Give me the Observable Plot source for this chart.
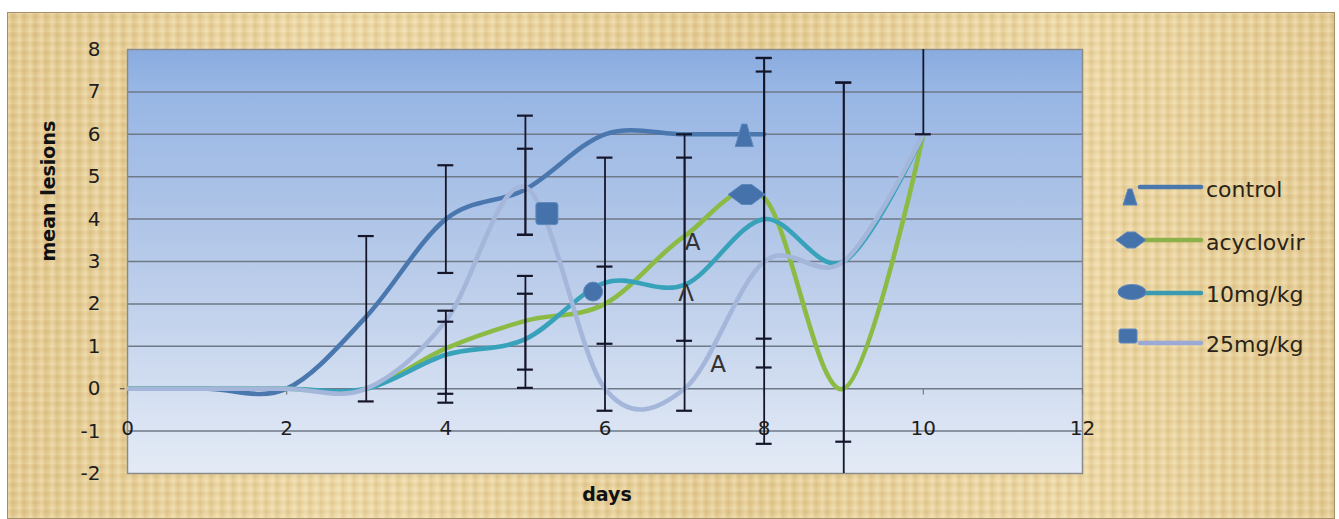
<!DOCTYPE html>
<html>
<head>
<meta charset="utf-8">
<script src="https://cdn.jsdelivr.net/npm/d3@7"></script>
<script src="https://cdn.jsdelivr.net/npm/@observablehq/plot@0.6"></script>
<style>
html,body{margin:0;padding:0;background:#fff;overflow:hidden;}
#wrap{position:relative;width:1339px;height:519px;}
#paper{position:absolute;left:7px;top:12px;width:1328px;height:507px;box-sizing:border-box;border:1px solid #a48e68;
  background-color:#e8d19b;
  background-image:
   repeating-linear-gradient(90deg, rgba(255,250,225,0.28) 0px, rgba(255,250,225,0) 3px, rgba(170,130,60,0.12) 5px, rgba(255,250,225,0) 8px, rgba(255,250,225,0.22) 11px),
   repeating-linear-gradient(0deg, rgba(255,245,210,0.20) 0px, rgba(0,0,0,0) 4px, rgba(160,120,50,0.09) 6px, rgba(0,0,0,0) 9px),
   linear-gradient(90deg, rgba(205,165,95,0.18), rgba(255,240,200,0.22) 25%, rgba(205,165,95,0.12) 55%, rgba(255,240,200,0.2) 80%, rgba(205,165,95,0.15));
}
#chart{position:absolute;left:0;top:0;}
#legend{position:absolute;left:0;top:0;}
</style>
</head>
<body>
<div id="wrap"><div id="paper"></div><div id="chart"></div><svg id="legend" width="1339" height="519"></svg></div>
<script>
// ---- data ----
const days = [0,1,2,3,4,5,6,7,8,9,10];
const seriesNames = ["control","acyclovir","10mg/kg","25mg/kg"];
const control   = [0,0,0,1.7,4,4.7,6,6,6,null,null];
const acyclovir = [0,0,0,0,0.95,1.6,2.0,3.6,4.5,0,6];
const mg10      = [0,0,0,0,0.8,1.17,2.5,2.45,4.0,3.0,6];
const mg25      = [0,0,0,0,1.6,4.75,0,0,3.0,3.0,6];

const xTicks = [0,2,4,6,8,10,12];
const yTicks = [-2,-1,0,1,2,3,4,5,6,7,8];

// error bars (low / high per bar)
const errDay  = [3, 4,4,4, 5,5,5,5, 6,6, 7,7, 8,8,8, 9,9, 10];
const errLow  = [-0.3, 2.73,-0.12,-0.33, 3.63,3.63,0.45,0.02, -0.52,1.06, -0.52,1.13, 1.18,0.5,-1.3, -1.25,-7.22, 6];
const errHigh = [3.6, 5.27,1.84,1.58, 5.66,6.44,2.66,2.24, 5.45,2.88, 5.45,6.0, 7.8,7.48,7.8, 7.22,7.22, 10];

// single markers shown on each series
const markerDay   = [7.75, 7.78, 5.85, 5.27];
const markerValue = [5.97, 4.58, 2.29, 4.13];

// stray text labels
const noteText  = ["A","Λ","A"];
const noteDay   = [7.1, 7.02, 7.42];
const noteValue = [3.44, 2.24, 0.56];

const seriesColors = ["#4a78ae","#8cbb45","#37a2ba","#a4b7da"];
const legendLineColors = ["#4a78ad","#8db04a","#3a9bb0","#9ba9d6"];
const markerFill = "#4572aa";
const markerStroke = "#5c88bd";

// ---- custom symbols ----
const symTriangle = {draw(c, s){ const r=Math.sqrt(s/Math.PI); c.moveTo(-0.25*r,-1.15*r); c.lineTo(0.25*r,-1.15*r); c.lineTo(0.9*r,1.1*r); c.lineTo(-0.9*r,1.1*r); c.closePath(); }};
const symDiamond  = {draw(c, s){ const r=Math.sqrt(s/Math.PI); c.moveTo(-1.85*r,0); c.lineTo(-0.5*r,-r); c.lineTo(0.5*r,-r); c.lineTo(1.85*r,0); c.lineTo(0.5*r,r); c.lineTo(-0.5*r,r); c.closePath(); }};
const symEllipse  = {draw(c, s){ const r=Math.sqrt(s/Math.PI); c.moveTo(r,0); c.arc(0,0,r,0,2*Math.PI); c.closePath(); }};
const symSquare   = {draw(c, s){ const r=Math.sqrt(s/Math.PI); const q=0.25*r; c.moveTo(-r+q,-r); c.lineTo(r-q,-r); c.quadraticCurveTo(r,-r,r,-r+q); c.lineTo(r,r-q); c.quadraticCurveTo(r,r,r-q,r); c.lineTo(-r+q,r); c.quadraticCurveTo(-r,r,-r,r-q); c.lineTo(-r,-r+q); c.quadraticCurveTo(-r,-r,-r+q,-r); c.closePath(); }};
const markerSymbols = [symTriangle, symDiamond, symEllipse, symSquare];
const markerR = [10, 10, 9.5, 11];

// ---- build tables ----
const allVals = [control, acyclovir, mg10, mg25];
const rows = [];
seriesNames.forEach((name,i)=>{ days.forEach((d,j)=>{ const v=allVals[i][j]; if(v!=null) rows.push({series:name, day:d, value:v}); }); });
const errIdx = errDay.map((d,i)=>i);
const caps = [];
errIdx.forEach(i=>{ caps.push({day:errDay[i], v:errLow[i]}); caps.push({day:errDay[i], v:errHigh[i]}); });
const noteIdx = noteText.map((d,i)=>i);

const font = "DejaVu Sans";

const chart = Plot.plot({
  width: 1339, height: 519,
  marginLeft: 127, marginRight: 257, marginTop: 49, marginBottom: 46,
  x: {domain: [0,12], axis: null},
  y: {domain: [-2,8], axis: null},
  color: {domain: seriesNames, range: seriesColors},
  style: {background: "transparent", fontFamily: font, fontSize: "20px", overflow: "visible"},
  marks: [
    Plot.frame({fill: "#b5c8ea"}),
    Plot.ruleY(yTicks.filter(t=>t>-2 && t<8), {y: d=>d, stroke: "#6f7988", strokeWidth: 1.5}),
    Plot.frame({stroke: "#8a8a8a", strokeWidth: 1.5}),
    Plot.ruleX(xTicks, {x: d=>d, y1: 0, y2: -0.15, stroke: "#7a7a7a", strokeWidth: 1.2}),
    Plot.ruleY([0], {y: d=>d, x1: -0.09, x2: -0.03, stroke: "#555", strokeWidth: 1.2}),
    Plot.line(rows, {x: "day", y: "value", z: "series", stroke: "series", strokeWidth: 4.6, curve: "cardinal", clip: true}),
    Plot.ruleX(errIdx, {x: i=>errDay[i], y1: i=>errLow[i], y2: i=>errHigh[i], stroke: "#15162a", strokeWidth: 1.8, clip: true}),
    Plot.ruleY(caps, {y: "v", x1: d=>d.day-0.1, x2: d=>d.day+0.1, stroke: "#15162a", strokeWidth: 2.2, clip: true}),
    ...markerSymbols.map((sym,k)=>Plot.dot([k], {x: i=>markerDay[i], y: i=>markerValue[i], symbol: sym, r: markerR[k], fill: markerFill, stroke: markerStroke, strokeWidth: 1})),
    Plot.text(noteIdx, {x: i=>noteDay[i], y: i=>noteValue[i], text: i=>noteText[i], fontSize: 23, fill: "#333", textAnchor: "middle"}),
    Plot.text(yTicks, {x: 0, y: d=>d, dx: -27, text: d=>String(d), textAnchor: "end", fontSize: 20, fill: "#1e1e1e"}),
    Plot.text(xTicks, {x: d=>d, y: -0.94, text: d=>String(d), textAnchor: "middle", fontSize: 20, fill: "#1e1e1e"}),
    Plot.text(["mean lesions"], {frameAnchor: "left", dx: -79, rotate: -90, text: d=>d, fontSize: 19, fontWeight: "bold", fill: "#111"}),
    Plot.text(["days"], {frameAnchor: "bottom", dx: 2, dy: 27, text: d=>d, fontSize: 19, fontWeight: "bold", fill: "#111"})
  ]
});
document.getElementById("chart").appendChild(chart);

// gradient fill for plot area
const sel = d3.select(chart);
const defs = sel.insert("defs", ":first-child");
const grad = defs.append("linearGradient").attr("id","plotbg").attr("x1",0).attr("y1",0).attr("x2",0).attr("y2",1);
[[0,"#89abdf"],[0.08,"#96b5e4"],[0.5,"#b7cae9"],[1,"#e4ebf6"]].forEach(([o,c])=>grad.append("stop").attr("offset",o).attr("stop-color",c));
let fr = sel.select('[aria-label="frame"]');
if (!fr.empty()) { const n = fr.node(); const r = n.tagName.toLowerCase()==="rect" ? fr : fr.select("rect"); r.attr("fill","url(#plotbg)"); }

// ---- legend ----
const lg = d3.select("#legend");
const legendY = [189, 242, 294, 344];
const lineY = [187, 240, 293, 343];
const legendSym = [
  {d:"M-2,-8 L2,-8 L7,8 L-7,8 Z", dy: 197},
  {d:"M-15,0 L-4,-8 L4,-8 L15,0 L4,8 L-4,8 Z", dy: 240},
  {d:"M-14,0 A14,7.5 0 1,0 14,0 A14,7.5 0 1,0 -14,0 Z", dy: 292},
  {d:"M-7,-7 L7,-7 Q9,-7 9,-5 L9,5 Q9,7 7,7 L-7,7 Q-9,7 -9,5 L-9,-5 Q-9,-7 -7,-7 Z", dy: 336}
];
const legendSymX = [1130, 1131, 1132, 1128];
seriesNames.forEach((name,i)=>{
  lg.append("line").attr("x1",1140).attr("x2",1201).attr("y1",lineY[i]).attr("y2",lineY[i])
    .attr("stroke",legendLineColors[i]).attr("stroke-width",4.5).attr("stroke-linecap","round");
  lg.append("path").attr("d",legendSym[i].d).attr("transform",`translate(${legendSymX[i]},${legendSym[i].dy})`)
    .attr("fill",markerFill).attr("stroke",markerStroke).attr("stroke-width",1);
  lg.append("text").attr("x",1206).attr("y",legendY[i]).attr("dy","0.35em").attr("font-family",font)
    .attr("font-size",22).attr("fill","#2a2416").text(name);
});
</script>
</body>
</html>
